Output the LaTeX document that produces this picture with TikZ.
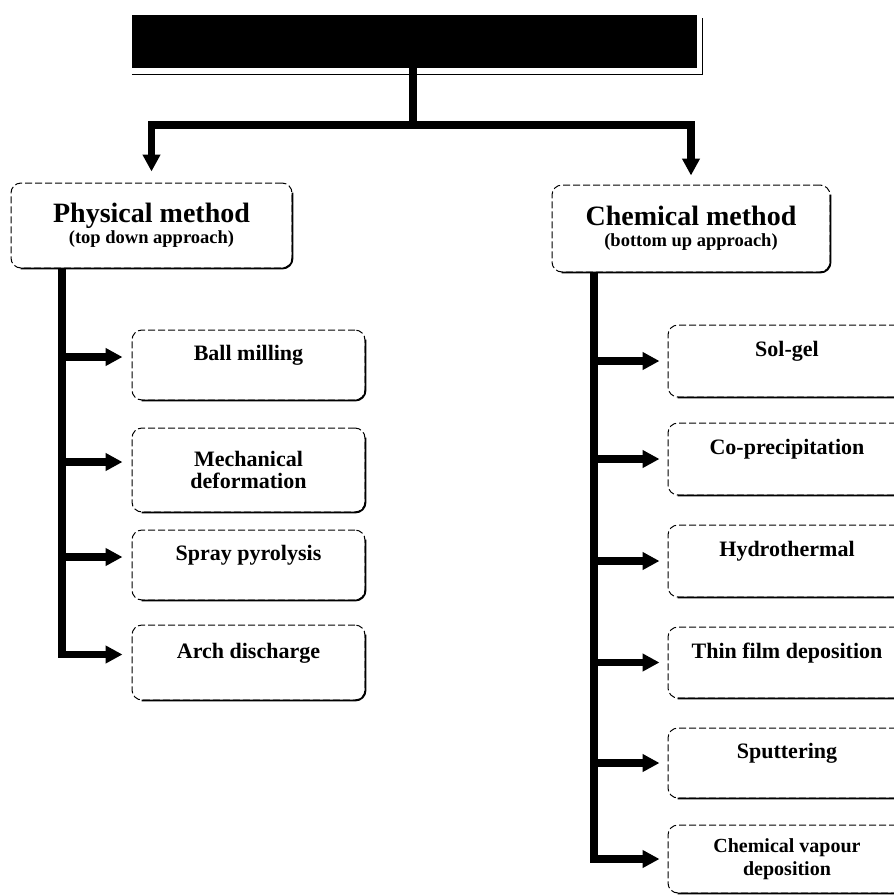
\documentclass[tikz,border=0pt]{standalone}
\usepackage{fontspec}
\setmainfont{Liberation Serif}
\usetikzlibrary{arrows.meta}
\begin{document}
\begin{tikzpicture}[x=1pt,y=-1pt,
  conn/.style={line width=7.5pt, line join=miter, -{Triangle[length=17pt,width=17pt]}},
  plain/.style={line width=7.5pt, line join=miter},
  box/.style={draw=black, line width=1pt, dash pattern=on 7pt off 3pt, rounded corners=10pt,
    inner sep=2pt, align=center, font=\bfseries\fontsize{22}{22}\selectfont},
  onel/.style={text height=15pt, text depth=24pt},
  bottomedge/.style={line width=1.8pt, rounded corners=10pt},
]
\useasboundingbox (0,0) rectangle (894,895);
\clip (0,0) rectangle (894,895);

% top (black) box
\node[fill=black, minimum width=565pt, minimum height=53pt, inner sep=0pt] (top) at (414.5,41.5) {};
\draw[line width=1.2pt] ([yshift=-6pt]top.south west) -- ([xshift=5pt,yshift=-6pt]top.south east)
  -- ([xshift=5pt,yshift=-3pt]top.north east);

% method boxes
\node[box, minimum width=281pt, minimum height=85pt] (phys) at (151.5,225.5)
  {{\fontsize{28}{30}\selectfont Physical method}\\[-1pt]{\fontsize{18.5}{21}\selectfont (top down approach)}};
\node[box, minimum width=278pt, minimum height=87pt] (chem) at (691,228.5)
  {{\fontsize{28}{30}\selectfont Chemical method}\\[-1pt]{\fontsize{18.5}{21}\selectfont (bottom up approach)}};

% physical items
\node[box, onel, minimum width=233pt, minimum height=70pt] (ball) at (248.5,365) {Ball milling};
\node[box, minimum width=233pt, minimum height=84pt] (mech) at (248.5,470) {Mechanical\\deformation};
\node[box, onel, minimum width=233pt, minimum height=70pt] (spray) at (248.5,565) {Spray pyrolysis};
\node[box, onel, minimum width=233pt, minimum height=75pt] (arch) at (248.5,662.5) {Arch discharge};

% chemical items
\node[box, onel, minimum width=238pt, minimum height=72pt] (solgel) at (787,361) {Sol-gel};
\node[box, onel, minimum width=238pt, minimum height=72pt] (coprec) at (787,459) {Co-precipitation};
\node[box, onel, minimum width=238pt, minimum height=72pt] (hydro) at (787,561) {Hydrothermal};
\node[box, onel, minimum width=238pt, minimum height=71pt] (thin) at (787,662.5) {Thin film deposition};
\node[box, onel, minimum width=238pt, minimum height=70pt] (sput) at (787,763) {Sputtering};
\node[box, minimum width=238pt, minimum height=68pt, font=\bfseries\fontsize{20}{23}\selectfont] (cvd) at (787,859)
  {Chemical vapour\\deposition};

\foreach \n in {phys,chem,ball,mech,spray,arch,solgel,coprec,hydro,thin,sput,cvd}
  \draw[bottomedge] ([xshift=10pt]\n.south west) -- (\n.south east) -- ([yshift=-10pt]\n.north east);

% top connectors
\coordinate (j) at (413,125);
\draw[plain] (top.south -| j) -- (j);
\draw[conn, shorten >=11pt] (j) -| (phys.north);
\draw[conn, shorten >=9pt] (j) -| (chem.north);

% physical stem and branches
\coordinate (pl) at (62,0);
\draw[conn, shorten >=9pt] (phys.south -| pl) |- ([yshift=8pt]arch.west);
\foreach \n in {ball,mech,spray}
  \draw[conn, shorten >=9pt] ([yshift=8pt]\n.west -| pl) -- ([yshift=8pt]\n.west);

% chemical stem and branches
\coordinate (cl) at (594,0);
\draw[conn, shorten >=8pt] (chem.south -| cl) |- (cvd.west);
\foreach \n in {solgel,coprec,hydro,thin,sput}
  \draw[conn, shorten >=8pt] (\n.west -| cl) -- (\n.west);
\end{tikzpicture}
\end{document}
